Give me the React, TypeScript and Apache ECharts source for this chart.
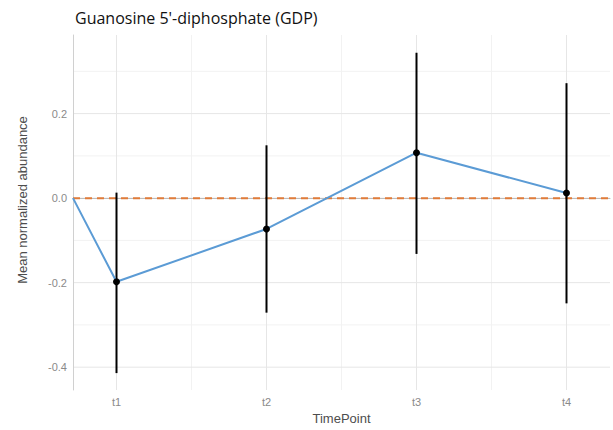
import React, { useEffect, useRef } from "react";
import * as echarts from "echarts";

// Time points shown on the x axis (positioned at 1..4)
const timePoints = ["t1", "t2", "t3", "t4"];
const timePositions = [1, 2, 3, 4];

// Mean normalized abundance per time point, with its error range
const meanValues = [-0.198, -0.073, 0.1075, 0.012];
const lowerValues = [-0.414, -0.271, -0.132, -0.249];
const upperValues = [0.013, 0.125, 0.344, 0.272];

// The trend line begins at the baseline on the left edge of the panel
const lineStart = [0.71, 0];

// Axis extents and tick positions
const xMin = 0.71;
const xMax = 4.29;
const yMin = -0.454;
const yMax = 0.386;
const yTickLabels = [-0.4, -0.2, 0, 0.2];
const yMajorGrid = [-0.4, -0.2, 0, 0.2];
const yMinorGrid = [-0.3, -0.1, 0.1, 0.3];
const xMajorGrid = [1, 2, 3, 4];
const xMinorGrid = [1.5, 2.5, 3.5];

export default function App() {
  const ref = useRef<HTMLDivElement>(null);

  useEffect(() => {
    if (!ref.current) return;
    const chart = echarts.init(ref.current, undefined, { renderer: "svg" });

    const gridLineItem = (color: string, vertical: boolean) =>
      (params: any, api: any) => {
        const v = api.value(0);
        const p1 = vertical ? api.coord([v, yMin]) : api.coord([xMin, v]);
        const p2 = vertical ? api.coord([v, yMax]) : api.coord([xMax, v]);
        return {
          type: "line",
          shape: { x1: p1[0], y1: p1[1], x2: p2[0], y2: p2[1] },
          style: { stroke: color, lineWidth: 1 },
          silent: true,
        };
      };

    const option: any = {
      animation: false,
      backgroundColor: "#ffffff",
      title: {
        text: "Guanosine 5'-diphosphate (GDP)",
        left: 70,
        top: 5,
        textStyle: {
          fontFamily: "Open Sans",
          fontSize: 16,
          fontWeight: "normal",
          color: "#111111",
        },
      },
      grid: { left: 73, right: 3, top: 35, bottom: 38, containLabel: false },
      xAxis: {
        type: "value",
        min: xMin,
        max: xMax,
        name: "TimePoint",
        nameLocation: "middle",
        nameGap: 22,
        nameTextStyle: { fontFamily: "Liberation Sans", fontSize: 13, color: "#4d4d4d" },
        axisLine: { show: true, lineStyle: { color: "#bdbdbd", width: 1 } },
        axisTick: { show: false },
        splitLine: { show: false },
        axisLabel: {
          customValues: timePositions,
          formatter: (v: number) => timePoints[timePositions.indexOf(Math.round(v))] ?? "",
          fontFamily: "Liberation Sans",
          fontSize: 11,
          color: "#8a8a8a",
          margin: 6,
        },
      },
      yAxis: {
        type: "value",
        min: yMin,
        max: yMax,
        axisLine: { show: true, lineStyle: { color: "#d0d0d0", width: 1 } },
        axisTick: { show: false },
        splitLine: { show: false },
        axisLabel: {
          customValues: yTickLabels,
          formatter: (v: number) => v.toFixed(1),
          fontFamily: "Liberation Sans",
          fontSize: 11,
          color: "#8a8a8a",
          margin: 6,
        },
      },
      graphic: [
        {
          type: "text",
          x: 22,
          y: 200,
          rotation: Math.PI / 2,
          style: {
            text: "Mean normalized abundance",
            fontFamily: "Liberation Sans",
            fontSize: 13,
            fill: "#4d4d4d",
            textAlign: "center",
            textVerticalAlign: "middle",
          },
        },
      ],
      series: [
        {
          type: "custom",
          silent: true,
          z: 0,
          data: xMinorGrid.map((v) => [v]),
          renderItem: gridLineItem("#f2f2f2", true),
        },
        {
          type: "custom",
          silent: true,
          z: 0,
          data: yMinorGrid.map((v) => [v]),
          renderItem: gridLineItem("#f2f2f2", false),
        },
        {
          type: "custom",
          silent: true,
          z: 0,
          data: xMajorGrid.map((v) => [v]),
          renderItem: gridLineItem("#e6e6e6", true),
        },
        {
          type: "custom",
          silent: true,
          z: 0,
          data: yMajorGrid.map((v) => [v]),
          renderItem: gridLineItem("#e6e6e6", false),
        },
        {
          // zero reference line
          type: "line",
          silent: true,
          z: 2,
          symbol: "none",
          data: [
            [xMin, 0],
            [xMax, 0],
          ],
          lineStyle: { color: "#e07b39", width: 2, type: [7, 5] },
        },
        {
          // error bars
          type: "custom",
          z: 3,
          silent: true,
          data: timePositions.map((x, i) => [x, lowerValues[i], upperValues[i]]),
          renderItem: (params: any, api: any) => {
            const lo = api.coord([api.value(0), api.value(1)]);
            const hi = api.coord([api.value(0), api.value(2)]);
            return {
              type: "line",
              shape: { x1: lo[0], y1: lo[1], x2: hi[0], y2: hi[1] },
              style: { stroke: "#000000", lineWidth: 2 },
            };
          },
        },
        {
          type: "line",
          z: 4,
          data: [lineStart, ...timePositions.map((x, i) => [x, meanValues[i]])],
          lineStyle: { color: "#5b9bd5", width: 2 },
          symbol: (value: number[]) => (value[0] === lineStart[0] ? "none" : "circle"),
          symbolSize: 7,
          itemStyle: { color: "#000000", borderWidth: 0 },
        },
      ],
    };

    chart.setOption(option);
    return () => chart.dispose();
  }, []);

  return (
    <div
      ref={ref}
      style={{ position: "fixed", left: 0, top: 0, width: 613, height: 430 }}
    />
  );
}
